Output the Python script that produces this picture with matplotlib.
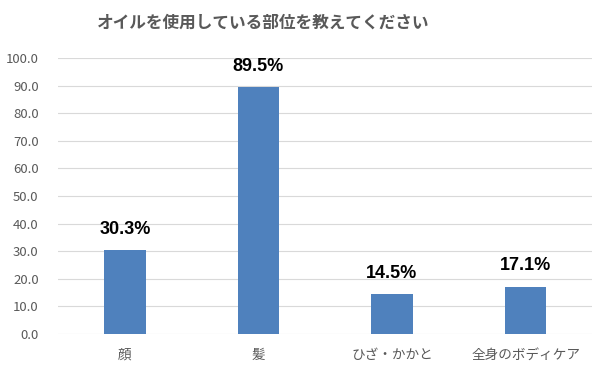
import matplotlib
matplotlib.use('Agg')
import matplotlib.pyplot as plt

plt.rcParams['font.family'] = ['Noto Sans CJK JP', 'DejaVu Sans']

categories = ['顔', '髪', 'ひざ・かかと', '全身のボディケア']
values = [30.3, 89.5, 14.5, 17.1]
yticks = [0, 10, 20, 30, 40, 50, 60, 70, 80, 90, 100]

BAR = '#4F81BD'
GRAY = '#595959'

fig = plt.figure(figsize=(6.05, 3.74), dpi=100)
ax = fig.add_axes([0.096, 0.107, 0.883, 0.738])

x = range(len(categories))
ax.bar(x, values, width=0.31, color=BAR, zorder=3)
for xi, v in zip(x, values):
    ax.text(xi, v + 4.5, f'{v:.1f}%', ha='center', va='bottom',
            fontsize=13, fontweight='bold', color='black',
            family=['Liberation Sans', 'DejaVu Sans'])

ax.set_xlim(-0.5, len(categories) - 0.5)
ax.set_ylim(0, 100)
ax.set_yticks(yticks)
ax.set_yticklabels([f'{t:.1f}' for t in yticks], fontsize=9.5, color=GRAY)
ax.set_xticks(list(x))
ax.set_xticklabels(categories, fontsize=9.8, color=GRAY)
ax.tick_params(axis='y', length=0, pad=14)
ax.tick_params(axis='x', length=0, pad=10)
ax.grid(axis='y', color='#D9D9D9', linewidth=0.8, zorder=0)
for s in ax.spines.values():
    s.set_visible(False)

fig.text(0.435, 0.94, 'オイルを使用している部位を教えてください', ha='center', va='center',
         fontsize=12, fontweight='bold', color=GRAY)

fig.savefig('out.png', dpi=100)
